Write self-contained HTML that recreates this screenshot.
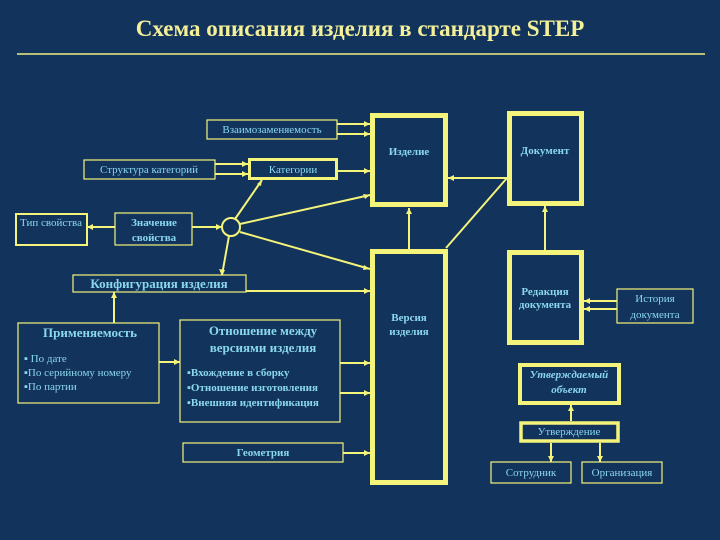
<!DOCTYPE html>
<html><head><meta charset="utf-8"><style>
html,body{margin:0;padding:0;background:#12335c;}
svg{display:block}
text{font-family:"Liberation Serif","DejaVu Serif",serif;fill:#8ad8ee;}
</style></head><body>
<svg width="720" height="540" viewBox="0 0 720 540" xmlns="http://www.w3.org/2000/svg">
<rect width="720" height="540" fill="#12335c"/>
<text x="360" y="36" text-anchor="middle" font-size="23" font-weight="bold" style="fill:#f4f09a">Схема описания изделия в стандарте STEP</text>
<line x1="17" y1="54" x2="705" y2="54" stroke="#f0ee80" stroke-width="1.5"/>
<g stroke="#f4f47a" fill="none">
<!-- thin boxes -->
<rect x="207" y="120" width="130" height="19" stroke-width="1.2"/>
<rect x="84" y="160" width="131" height="19" stroke-width="1.2"/>
<rect x="16" y="214" width="71" height="31" stroke-width="2"/>
<rect x="115" y="213" width="77" height="32" stroke-width="1.2"/>
<rect x="73" y="275" width="173" height="17" stroke-width="1.2"/>
<rect x="18" y="323" width="141" height="80" stroke-width="1.2"/>
<rect x="180" y="320" width="160" height="102" stroke-width="1.2"/>
<rect x="183" y="443" width="160" height="19" stroke-width="1.2"/>
<rect x="617" y="289" width="76" height="34" stroke-width="1.2"/>
<rect x="491" y="462" width="80" height="21" stroke-width="1.2"/>
<rect x="582" y="462" width="80" height="21" stroke-width="1.2"/>
<!-- thick boxes -->
<rect x="249.5" y="159.5" width="87" height="19" stroke-width="3"/>
<rect x="372.5" y="115.5" width="73" height="89" stroke-width="5"/>
<rect x="509.5" y="113.5" width="72" height="90" stroke-width="5"/>
<rect x="372.5" y="251.5" width="73" height="231" stroke-width="5"/>
<rect x="509.5" y="252.5" width="72" height="90" stroke-width="5"/>
<rect x="520" y="365" width="99" height="38" stroke-width="4"/>
<rect x="521" y="423" width="97" height="18" stroke-width="3.5"/>
<circle cx="231" cy="227" r="9" stroke-width="2"/>
<!-- connectors -->
<g stroke-width="2">
<line x1="337" y1="124" x2="370" y2="124"/>
<line x1="337" y1="134" x2="370" y2="134"/>
<line x1="215" y1="164" x2="248" y2="164"/>
<line x1="215" y1="174" x2="248" y2="174"/>
<line x1="338" y1="171" x2="370" y2="171"/>
<line x1="240" y1="224" x2="370" y2="195"/>
<line x1="240" y1="232" x2="370" y2="269"/>
<line x1="235" y1="219" x2="262" y2="180"/>
<line x1="229" y1="236" x2="222" y2="275"/>
<line x1="192" y1="227" x2="222" y2="227"/>
<line x1="87" y1="227" x2="115" y2="227"/>
<line x1="246" y1="291" x2="370" y2="291"/>
<line x1="114" y1="323" x2="114" y2="292"/>
<line x1="159" y1="362" x2="180" y2="362"/>
<line x1="340" y1="363" x2="370" y2="363"/>
<line x1="340" y1="393" x2="370" y2="393"/>
<line x1="343" y1="453" x2="370" y2="453"/>
<line x1="409" y1="249" x2="409" y2="208"/>
<line x1="448" y1="178" x2="507" y2="178"/>
<line x1="446" y1="248" x2="507" y2="178"/>
<line x1="545" y1="250" x2="545" y2="206"/>
<line x1="617" y1="301" x2="584" y2="301"/>
<line x1="617" y1="309" x2="584" y2="309"/>
<line x1="571" y1="421" x2="571" y2="405"/>
<line x1="551" y1="443" x2="551" y2="462"/>
<line x1="600" y1="443" x2="600" y2="462"/>
</g>
</g>
<g fill="#f4f47a">
<polygon points="370,124 364,121 364,127"/><polygon points="370,134 364,131 364,137"/>
<polygon points="248,164 242,161 242,167"/><polygon points="248,174 242,171 242,177"/>
<polygon points="370,171 364,168 364,174"/><polygon points="370,195 363,194 365,199"/>
<polygon points="370,269 364,265 363,270"/><polygon points="262,180 257,184 261,186"/>
<polygon points="222,276 219,269 225,270"/><polygon points="222,227 216,224 216,230"/>
<polygon points="87,227 93,224 93,230"/><polygon points="370,291 364,288 364,294"/>
<polygon points="114,292 111,298 117,298"/><polygon points="180,362 174,359 174,365"/>
<polygon points="370,363 364,360 364,366"/><polygon points="370,393 364,390 364,396"/>
<polygon points="370,453 364,450 364,456"/><polygon points="409,208 406,214 412,214"/>
<polygon points="448,178 454,175 454,181"/><polygon points="545,206 542,212 548,212"/>
<polygon points="584,301 590,298 590,304"/><polygon points="584,309 590,306 590,312"/>
<polygon points="571,405 568,411 574,411"/><polygon points="551,462 548,456 554,456"/>
<polygon points="600,462 597,456 603,456"/>
</g>
<g font-size="11">
<text x="272" y="133" text-anchor="middle">Взаимозаменяемость</text>
<text x="149" y="173" text-anchor="middle">Структура категорий</text>
<text x="293" y="173" text-anchor="middle">Категории</text>
<text x="51" y="226" text-anchor="middle">Тип свойства</text>
<text x="154" y="226" text-anchor="middle" font-weight="bold">Значение</text>
<text x="154" y="241" text-anchor="middle" font-weight="bold">свойства</text>
<text x="409" y="155" text-anchor="middle" font-weight="bold">Изделие</text>
<text x="545" y="154" text-anchor="middle" font-weight="bold">Документ</text>
<text x="409" y="321" text-anchor="middle" font-weight="bold">Версия</text>
<text x="409" y="335" text-anchor="middle" font-weight="bold">изделия</text>
<text x="545" y="295" text-anchor="middle" font-weight="bold">Редакция</text>
<text x="545" y="308" text-anchor="middle" font-weight="bold">документа</text>
<text x="655" y="302" text-anchor="middle">История</text>
<text x="655" y="318" text-anchor="middle">документа</text>
<text x="569" y="378" text-anchor="middle" font-weight="bold" font-style="italic">Утверждаемый</text>
<text x="569" y="393" text-anchor="middle" font-weight="bold" font-style="italic">объект</text>
<text x="569" y="435" text-anchor="middle">Утверждение</text>
<text x="531" y="476" text-anchor="middle">Сотрудник</text>
<text x="622" y="476" text-anchor="middle">Организация</text>
<text x="263" y="456" text-anchor="middle" font-weight="bold">Геометрия</text>
<text x="24" y="362">▪ По дате</text>
<text x="24" y="376">▪По серийному номеру</text>
<text x="24" y="390">▪По партии</text>
<text x="187" y="376" font-weight="bold">▪Вхождение в сборку</text>
<text x="187" y="391" font-weight="bold">▪Отношение изготовления</text>
<text x="187" y="406" font-weight="bold">▪Внешняя идентификация</text>
</g>
<text x="159" y="288" text-anchor="middle" font-size="13" font-weight="bold">Конфигурация изделия</text>
<text x="90" y="337" text-anchor="middle" font-size="13" font-weight="bold">Применяемость</text>
<text x="263" y="335" text-anchor="middle" font-size="13" font-weight="bold">Отношение между</text>
<text x="263" y="352" text-anchor="middle" font-size="13" font-weight="bold">версиями изделия</text>
</svg>
</body></html>
